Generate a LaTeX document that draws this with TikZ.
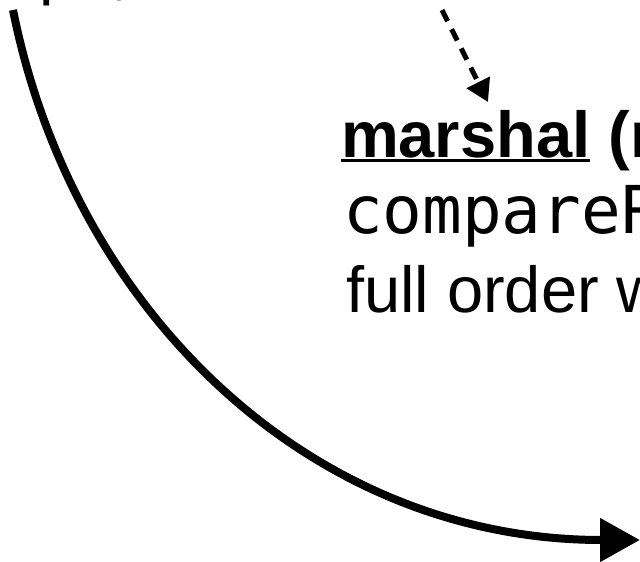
\documentclass[tikz,border=0pt]{standalone}
\usepackage{fontspec}
\setmainfont{Liberation Sans}
\setmonofont{DejaVu Sans Mono}
\usetikzlibrary{arrows.meta}
\tikzset{
  txt/.style={anchor=base west, inner sep=0pt, outer sep=0pt},
  sansbig/.style={txt, font=\fontsize{65}{72}\selectfont},
  sansbold/.style={txt, font=\fontsize{65}{72}\selectfont\bfseries},
  monobig/.style={txt, font=\fontsize{66}{72}\selectfont\ttfamily},
  ulrule/.style={line width=3pt},
  flowarc/.style={line width=8pt, -{Triangle[length=40pt,width=42pt]}},
  dasharrow/.style={line width=5pt, dash pattern=on 12.5pt off 9pt, -{Triangle[length=22pt,width=25pt]}}
}
\begin{document}
\begin{tikzpicture}[x=1pt,y=-1pt]
\useasboundingbox (0,0) rectangle (640,562);
\clip (0,0) rectangle (640,562);
% top fragment of text above
\node[sansbig] (frag) at (39,-7.5) {pe,};
% marshal label
\node[sansbold] (marshal) at (341,157) {marshal};
\node[sansbold] (paren) at (marshal.base east) {\ (r};
\draw[ulrule] ([yshift=-3.5pt]marshal.base west) -- ([yshift=-3.5pt]marshal.base east);
\node[monobig] (cmp) at (343,233) {compareR};
\node[sansbig] (full) at (346,312) {full order w};
% dashed arrow
\coordinate (d0) at (442,10);
\coordinate (d1) at (488,102);
\draw[dasharrow] (d0) -- (d1);
% big arc
\coordinate (a0) at (13,10);
\coordinate (a1) at (640,540);
\draw[flowarc] (a0) .. controls (73,310) and (310,540) .. (a1);
\end{tikzpicture}
\end{document}
